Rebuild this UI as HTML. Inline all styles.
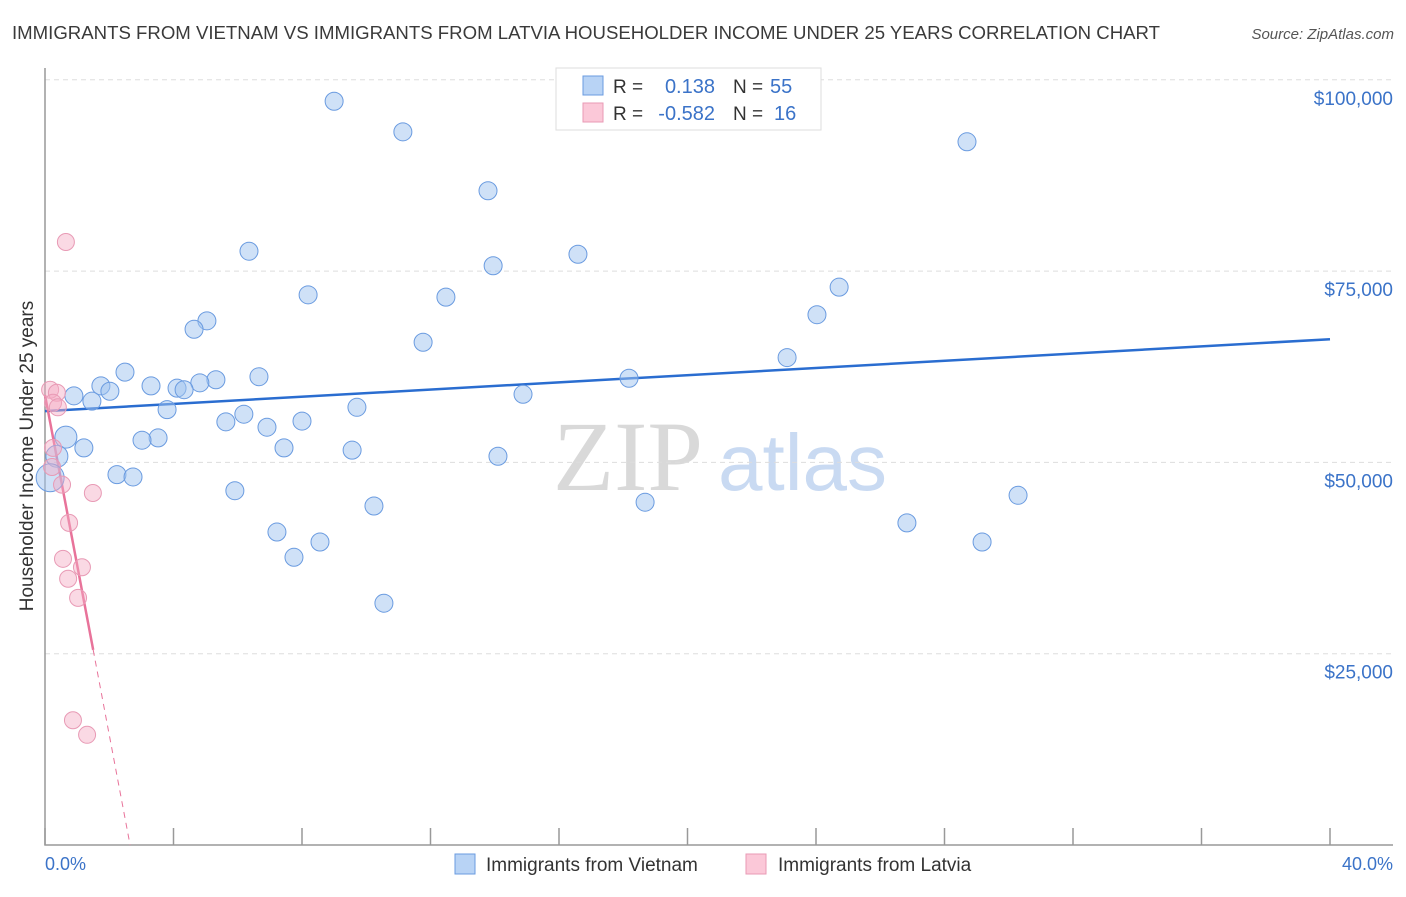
<!DOCTYPE html>
<html><head><meta charset="utf-8"><style>
body{margin:0;background:#fff;font-family:"Liberation Sans",sans-serif;}
</style></head><body>
<svg id="chart" width="1406" height="892" xmlns="http://www.w3.org/2000/svg" font-family="Liberation Sans, sans-serif">
<text x="12" y="39" font-size="18" fill="#3a3a3a" textLength="1148" lengthAdjust="spacingAndGlyphs">IMMIGRANTS FROM VIETNAM VS IMMIGRANTS FROM LATVIA HOUSEHOLDER INCOME UNDER 25 YEARS CORRELATION CHART</text>
<text x="1394" y="39" font-size="15" fill="#555" font-style="italic" text-anchor="end">Source: ZipAtlas.com</text>
<g>
<text x="553" y="490" font-size="100" fill="#d9d9d9" font-family="Liberation Serif, serif">ZIP</text>
<text x="718" y="490" font-size="80" fill="#c9daf2">atlas</text>
</g>
<g id="grid"></g><g id="axes"></g><g id="trends"></g><g id="points"></g>
<text transform="translate(33,456) rotate(-90)" font-size="19" fill="#333" text-anchor="middle">Householder Income Under 25 years</text>
<text x="45" y="870" font-size="18" fill="#3b73c8">0.0%</text>
<text x="1393" y="870" font-size="18" fill="#3b73c8" text-anchor="end">40.0%</text>
<g>
<rect x="556" y="68" width="265" height="62" fill="#fff" stroke="#ddd"/>
<rect x="583" y="76" width="20" height="19" fill="#b8d3f5" stroke="#6a9be0"/>
<rect x="583" y="103" width="20" height="19" fill="#fbc8d8" stroke="#e89ab5"/>
<text x="613" y="93" font-size="19" fill="#333">R =</text>
<text x="715" y="93" font-size="20" fill="#3b73c8" text-anchor="end">0.138</text>
<text x="733" y="93" font-size="19" fill="#333">N =</text>
<text x="770" y="93" font-size="20" fill="#3b73c8">55</text>
<text x="613" y="120" font-size="19" fill="#333">R =</text>
<text x="715" y="120" font-size="20" fill="#3b73c8" text-anchor="end">-0.582</text>
<text x="733" y="120" font-size="19" fill="#333">N =</text>
<text x="774" y="120" font-size="20" fill="#3b73c8">16</text>
</g>
<g>
<rect x="455" y="854" width="20" height="20" fill="#b8d3f5" stroke="#6a9be0"/>
<text x="486" y="871" font-size="19" fill="#333">Immigrants from Vietnam</text>
<rect x="746" y="854" width="20" height="20" fill="#fbc8d8" stroke="#e89ab5"/>
<text x="778" y="871" font-size="19" fill="#333">Immigrants from Latvia</text>
</g>
</svg>
<script>
const blueX=[9.0,11.14,13.79,28.7,6.35,16.59,13.95,8.19,12.48,24.72,24.03,5.04,4.64,11.77,23.1,2.49,6.66,5.32,18.18,1.74,3.30,4.11,4.82,4.33,2.02,0.90,1.46,14.88,3.80,9.71,6.19,5.63,8.0,6.91,0.65,3.52,3.02,1.21,7.44,9.56,14.1,0.37,2.24,2.74,0.16,5.91,30.29,10.24,18.68,26.83,7.22,8.56,29.17,7.75,10.55];
const blueY=[97.2,93.2,85.5,91.9,77.6,77.2,75.7,71.9,71.6,72.9,69.3,68.5,67.4,65.7,63.7,61.8,61.2,60.8,61.0,60.0,60.0,59.7,60.4,59.5,59.3,58.7,58.0,58.9,56.9,57.2,56.3,55.3,55.4,54.6,53.3,53.2,52.9,51.9,51.9,51.6,50.8,50.8,48.4,48.1,48.0,46.3,45.7,44.3,44.8,42.1,40.9,39.6,39.6,37.6,31.6];
const pinkX=[0.65,0.16,0.37,0.25,0.40,0.25,0.22,0.53,1.49,0.75,0.56,1.15,0.72,1.03,0.87,1.31];
const pinkY=[78.8,59.5,59.1,57.8,57.2,51.9,49.4,47.1,46.0,42.1,37.4,36.3,34.8,32.3,16.3,14.4];
const yTicks=[25,50,75,100];
const yTickLabels=["$25,000","$50,000","$75,000","$100,000"];
const xTicks=[0,4,8,12,16,20,24,28,32,36,40];
const blueTrend=[56.7,66.1]; // value at 0% and 40%
const pinkTrend=[58.8,-22.2]; // intercept, slope per %
const pinkSolidEnd=1.5;
const NS="http://www.w3.org/2000/svg";
const X=v=>45+v*32.125, Y=v=>845-v*7.652;
function mk(t,a,p){const e=document.createElementNS(NS,t);for(const k in a)e.setAttribute(k,a[k]);p.appendChild(e);return e;}
const grid=document.getElementById('grid'),axes=document.getElementById('axes'),tr=document.getElementById('trends'),pts=document.getElementById('points');
yTicks.forEach((t,i)=>{
 const l=mk('line',{x1:45,x2:1393,y1:Y(t),y2:Y(t),stroke:'#ddd','stroke-dasharray':'5,4'},grid);
 
 
 const tx=mk('text',{x:1393,y:Y(t)+25,'font-size':19,fill:'#3b73c8','text-anchor':'end'},grid);
 tx.textContent=yTickLabels[i];
 
 
});
const ax=mk('path',{d:'M45 68V845H1393',stroke:'#999',fill:'none','stroke-width':1.5},axes);


xTicks.forEach(t=>{
 const l=mk('line',{x1:X(t),x2:X(t),y1:828,y2:845,stroke:'#999','stroke-width':1.5},axes);
 
 
});
blueX.forEach((x,i)=>{
 const big=(x<0.7&&blueY[i]<54)?(blueY[i]<49?14:11):9;
 const c=mk('circle',{cx:X(x),cy:Y(blueY[i]),r:big,fill:'rgba(160,196,240,0.5)',stroke:'#6a9be0','stroke-width':1},pts);
 
 
});
pinkX.forEach((x,i)=>{
 const c=mk('circle',{cx:X(x),cy:Y(pinkY[i]),r:8.5,fill:'rgba(245,170,195,0.45)',stroke:'#e89ab5','stroke-width':1},pts);
 
 
});
const bl=mk('line',{x1:X(0),y1:Y(blueTrend[0]),x2:X(40),y2:Y(blueTrend[1]),stroke:'#2a6dd0','stroke-width':2.5},tr);


const pe=pinkTrend[0]+pinkTrend[1]*pinkSolidEnd, zx=-pinkTrend[0]/pinkTrend[1];
const pl=mk('line',{x1:X(0),y1:Y(pinkTrend[0]),x2:X(pinkSolidEnd),y2:Y(pe),stroke:'#e8739a','stroke-width':2.5},tr);


const pd=mk('line',{x1:X(pinkSolidEnd),y1:Y(pe),x2:X(zx),y2:Y(0),stroke:'#e8739a','stroke-width':1,'stroke-dasharray':'6,5'},tr);


</script>
</body></html>
